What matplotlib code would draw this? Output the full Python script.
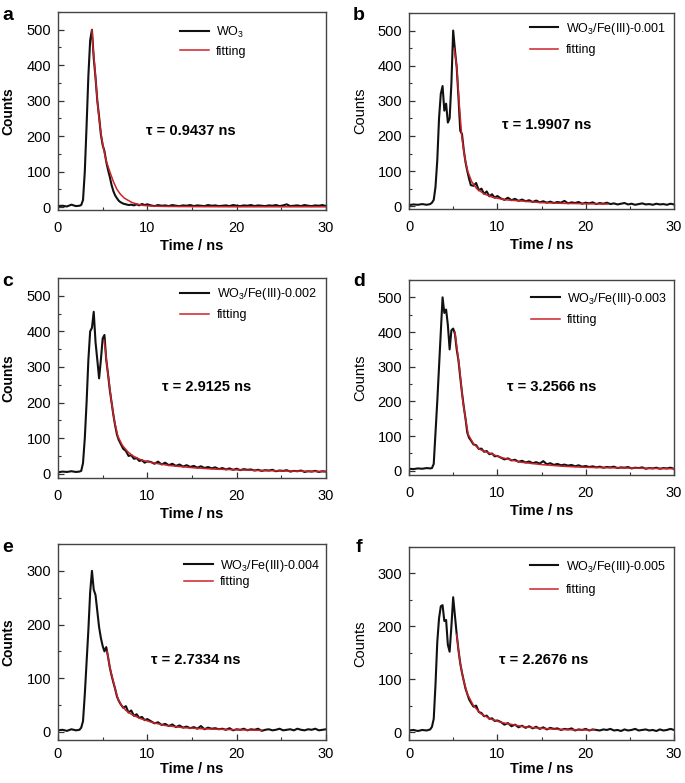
import matplotlib
matplotlib.use("Agg")
import matplotlib.pyplot as plt
from matplotlib.ticker import MultipleLocator

plt.rcParams['font.family'] = ['Liberation Sans', 'DejaVu Sans']
plt.rcParams['mathtext.fontset'] = 'custom'
plt.rcParams['mathtext.rm'] = 'Liberation Sans'
plt.rcParams['mathtext.it'] = 'Liberation Sans:italic'
plt.rcParams['mathtext.bf'] = 'Liberation Sans:bold'

# --------- time channels (ns) shared by the decay traces ----------
time_head = [0.0, 0.5, 1.0, 1.5, 2.0,
             2.4, 2.6, 2.8, 3.0, 3.2, 3.4, 3.6, 3.8, 4.0, 4.2, 4.4, 4.6, 4.8, 5.0,
             5.2, 5.4, 5.6, 5.8, 6.0, 6.2, 6.4, 6.6, 6.8, 7.0,
             7.3, 7.6, 7.9, 8.2, 8.5, 8.8, 9.1, 9.4, 9.7, 10.0]
time_tail = [10.4, 10.8, 11.2, 11.6, 12.0, 12.4, 12.8, 13.2, 13.6, 14.0,
             14.4, 14.8, 15.2, 15.6, 16.0, 16.4, 16.8, 17.2, 17.6, 18.0,
             18.4, 18.8, 19.2, 19.6, 20.0, 20.4, 20.8, 21.2, 21.6, 22.0,
             22.4, 22.8, 23.2, 23.6, 24.0, 24.4, 24.8, 25.2, 25.6, 26.0,
             26.4, 26.8, 27.2, 27.6, 28.0, 28.4, 28.8, 29.2, 29.6, 30.0]
time_ns = time_head + time_tail

# --------- measured counts ----------
counts_a = [3, 4, 2, 7, 3,
            4, 6, 20, 100, 230, 370, 470, 500, 420, 365, 300, 255, 205, 175,
            158, 128, 105, 85, 62, 45, 33, 25, 18, 14,
            10, 8, 6, 7, 5, 8, 5, 9, 6, 8,
            5, 3, 6, 4, 5, 3, 6, 4, 3, 5, 4, 6, 3, 5, 4, 3, 6, 4, 5, 3,
            4, 5, 3, 6, 4, 3, 5, 4, 6, 3, 5, 4, 3, 5, 4, 6, 3, 5, 8, 3,
            4, 5, 3, 6, 4, 3, 5, 4, 6, 3]
counts_b = [3, 5, 4, 6, 4,
            6, 10, 18, 55, 130, 250, 320, 342, 272, 292, 238, 250, 350, 500,
            445, 395, 310, 215, 205, 160, 125, 100, 78, 60,
            58, 66, 45, 50, 35, 42, 28, 34, 24, 29,
            22, 18, 24, 17, 21, 15, 19, 14, 17, 12, 16, 11, 14, 10, 13, 9, 12, 10, 15, 8,
            11, 9, 12, 7, 10, 8, 11, 6, 9, 7, 10, 6, 8, 5, 7, 9, 5, 7, 4, 6,
            8, 5, 6, 4, 7, 5, 6, 4, 7, 5]
counts_c = [4, 6, 5, 7, 5,
            6, 8, 30, 100, 200, 320, 400, 410, 455, 370, 320, 268, 320, 380,
            390, 320, 280, 235, 200, 165, 135, 110, 95, 85,
            70, 64, 50, 52, 42, 44, 36, 38, 31, 35,
            33, 28, 34, 26, 31, 24, 28, 22, 26, 20, 24, 19, 22, 17, 21, 16, 19, 15, 18, 13,
            16, 12, 15, 11, 14, 10, 13, 11, 12, 9, 11, 8, 10, 9, 11, 7, 9, 8, 10, 6,
            8, 7, 9, 5, 7, 6, 8, 5, 7, 6]
counts_d = [6, 5, 7, 6, 8,
            7, 8, 20, 110, 200, 300, 400, 500, 455, 465, 420, 350, 405, 410,
            395, 350, 318, 270, 225, 185, 150, 110, 95, 88,
            76, 74, 63, 64, 55, 57, 48, 50, 42, 43,
            38, 33, 36, 30, 32, 26, 29, 24, 27, 22, 25, 21, 28, 19, 22, 17, 20, 16, 18, 15,
            17, 13, 16, 12, 14, 11, 13, 10, 12, 9, 11, 10, 12, 8, 10, 9, 11, 7, 9, 8,
            10, 6, 8, 7, 9, 6, 8, 7, 9, 6]
counts_e = [3, 4, 2, 5, 3,
            4, 8, 20, 70, 130, 190, 260, 300, 265, 255, 225, 195, 175, 160,
            150, 158, 140, 120, 105, 92, 80, 66, 58, 52,
            45, 48, 36, 40, 30, 33, 26, 28, 22, 24,
            20, 16, 18, 13, 15, 11, 14, 9, 12, 8, 10, 7, 9, 6, 11, 5, 8, 6, 7, 5,
            6, 4, 7, 3, 5, 4, 6, 3, 5, 4, 6, 2, 4, 5, 3, 4, 6, 3, 4, 5,
            3, 6, 4, 3, 5, 4, 6, 3, 4, 5]
counts_f = [3, 4, 2, 4, 3,
            5, 10, 25, 90, 170, 215, 238, 240, 210, 212, 165, 152, 200, 255,
            220, 185, 155, 130, 112, 97, 82, 72, 62, 56,
            48, 50, 38, 36, 30, 31, 25, 26, 21, 22,
            19, 14, 17, 11, 14, 9, 12, 8, 11, 7, 10, 6, 9, 5, 8, 6, 7, 4, 6, 5,
            7, 3, 5, 4, 6, 3, 5, 4, 3, 5, 4, 6, 3, 4, 2, 5, 3, 4, 6, 3,
            4, 5, 3, 4, 2, 5, 3, 4, 6, 4]

# --------- fitted decays ----------
fit_t_a = [3.8, 3.9, 4.1, 4.4, 4.6, 4.85, 5.1, 5.4, 5.8, 6.2, 6.6, 7.0, 7.4, 7.8, 8.3, 8.8, 9.5, 10.5, 12, 15, 20, 25, 30]
fit_a = [500, 455, 400, 300, 250, 200, 165, 130, 100, 72, 50, 36, 26, 20, 13, 9, 5, 3, 2, 1.5, 1, 1, 1]
fit_t_b = [5.1, 5.4, 5.66, 5.97, 6.3, 6.64, 7.1, 7.66, 8.5, 9.5, 11, 12.6, 15, 17.5, 20, 22.5]
fit_b = [450, 400, 300, 200, 140, 100, 70, 50, 35, 25, 18, 15, 10, 8, 7, 6]
fit_t_c = [5.15, 5.3, 5.5, 5.75, 6.0, 6.3, 6.7, 7.2, 7.8, 8.4, 9.2, 10, 11, 12.5, 15, 17.5, 20, 22.5, 25, 27.5, 30]
fit_c = [375, 350, 300, 250, 200, 150, 105, 80, 62, 50, 40, 34, 29, 23, 17, 13, 11, 9, 8, 7, 6]
fit_t_d = [5.2, 5.45, 5.7, 5.9, 6.1, 6.4, 6.7, 7.3, 8.0, 9.2, 10.5, 12.6, 15, 17.5, 20, 25, 30]
fit_d = [400, 350, 300, 250, 200, 150, 105, 78, 62, 50, 38, 25, 18, 13, 10, 8, 6]
fit_t_e = [5.5, 5.8, 6.1, 6.4, 6.7, 7.1, 7.6, 8.3, 9.2, 10.5, 12, 14, 16, 18, 20, 22.8]
fit_e = [150, 120, 100, 80, 62, 50, 40, 32, 25, 18, 12, 8, 6, 5, 4, 3]
fit_t_f = [5.4, 5.6, 5.8, 6.15, 6.6, 7.3, 8.1, 9.2, 10.5, 13, 15, 17, 19, 21]
fit_f = [185, 155, 130, 100, 72, 50, 35, 25, 18, 10, 7, 5, 4, 4]

letters = ['a', 'b', 'c', 'd', 'e', 'f']
samples = ['WO$_3$', 'WO$_3$/Fe(III)-0.001', 'WO$_3$/Fe(III)-0.002',
           'WO$_3$/Fe(III)-0.003', 'WO$_3$/Fe(III)-0.004', 'WO$_3$/Fe(III)-0.005']
taus = ['0.9437', '1.9907', '2.9125', '3.2566', '2.7334', '2.2676']
counts = [counts_a, counts_b, counts_c, counts_d, counts_e, counts_f]
fit_t = [fit_t_a, fit_t_b, fit_t_c, fit_t_d, fit_t_e, fit_t_f]
fits = [fit_a, fit_b, fit_c, fit_d, fit_e, fit_f]

# --------- layout (pixels of a 685x783 figure) ----------
W, H = 685, 783
boxes = [(58, 326, 12, 210), (409, 674, 13, 209),
         (58, 326, 278, 478), (409, 674, 280, 475),
         (58, 326, 544, 740), (409, 674, 547, 740)]
ylims = [(-8, 550), (-8, 550), (-12, 550), (-12, 550), (-15, 350), (-15, 350)]
tau_pos = [(14.9, 216), (15.6, 232), (16.6, 244), (16.2, 243), (15.4, 134), (15.2, 136)]
leg_anchor = [(0.455, 0.935), (0.455, 0.96), (0.457, 0.96), (0.46, 0.945), (0.47, 0.93), (0.455, 0.94)]
leg_space = [0.45, 0.6, 0.6, 0.6, 0.2, 0.75]
letter_pos = [(8, 15), (359, 15), (8, 282), (359, 282), (8, 547), (359, 547)]
xpad = [8, 8, 8, 8, 5, 5]
xlabelpad = [3, 3, 3, 3, 1, 1]

fig = plt.figure(figsize=(W / 100, H / 100), dpi=100)
for i in range(6):
    l, r, t, b = boxes[i]
    ax = fig.add_axes([l / W, (H - b) / H, (r - l) / W, (b - t) / H])
    ax.plot(time_ns, counts[i], color='#111111', lw=1.5, label=samples[i])
    ax.plot(fit_t[i], fits[i], color='#cc2229', lw=1.1, label='fitting')
    ax.set_xlim(0, 30)
    ax.set_ylim(*ylims[i])
    ax.xaxis.set_major_locator(MultipleLocator(10))
    ax.xaxis.set_minor_locator(MultipleLocator(5))
    ax.yaxis.set_major_locator(MultipleLocator(100))
    ax.yaxis.set_minor_locator(MultipleLocator(50))
    ax.tick_params(which='both', direction='in', labelsize=10.5, color='#333333')
    ax.tick_params(which='major', length=4, width=0.9)
    ax.tick_params(which='minor', length=2.5, width=0.8)
    ax.tick_params(axis='x', pad=xpad[i])
    ax.tick_params(axis='y', pad=5)
    for s in ax.spines.values():
        s.set_color('#444444')
        s.set_linewidth(1.0)
    ax.set_xlabel('Time / ns', fontsize=10.5, fontweight='bold', labelpad=xlabelpad[i])
    ax.set_ylabel('Counts', fontsize=10.5 if i % 2 else 10,
                  fontweight='normal' if i % 2 else 'bold')
    ax.yaxis.set_label_coords(-0.158, 0.5)
    ax.text(tau_pos[i][0], tau_pos[i][1], '\u03c4 = %s ns' % taus[i],
            fontsize=10.5, fontweight='bold', ha='center', va='center')
    ax.legend(loc='upper left', bbox_to_anchor=leg_anchor[i], frameon=False,
              fontsize=9, handlelength=2.3, handletextpad=0.6,
              labelspacing=leg_space[i], borderaxespad=0, borderpad=0)
    fig.text(letter_pos[i][0] / W, 1 - letter_pos[i][1] / H, letters[i],
             fontsize=14, fontweight='bold', ha='center', va='center')

fig.savefig('out.png', dpi=100)
